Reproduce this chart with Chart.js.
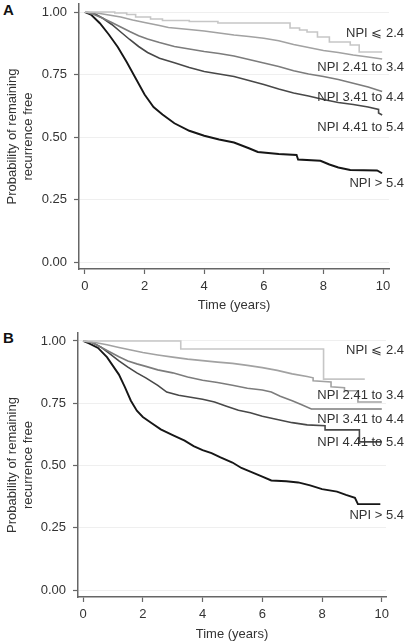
<!DOCTYPE html>
<html>
<head>
<meta charset="utf-8">
<script src="https://cdn.jsdelivr.net/npm/chart.js@4.4.0/dist/chart.umd.min.js"></script>
<style>
body{margin:0;width:406px;height:642px;overflow:hidden;background:#fff;position:relative;font-family:"Liberation Sans",Arial,sans-serif}
canvas{position:absolute;left:0}
.tag{position:absolute;left:3px;font-weight:bold;font-size:15px;line-height:16px;color:#111}
</style>
</head>
<body>
<div class="tag" style="top:2px">A</div>
<div class="tag" style="top:330px">B</div>
<canvas id="chartA" width="406" height="340" style="top:-16px"></canvas>
<canvas id="chartB" width="406" height="329" style="top:313px"></canvas>
<script>
const groups = ["NPI \u2A7D 2.4", "NPI 2.41 to 3.4", "NPI 3.41 to 4.4", "NPI 4.41 to 5.4", "NPI > 5.4"];
const xTicks = [0, 2, 4, 6, 8, 10];
const yTicks = [0, 0.25, 0.5, 0.75, 1];

// panel A, [time, probability]; repeated times are the visible drops
const aNpi1 = [[0,1],[1.0,0.996],[1.4,0.99],[1.7,0.98],[2.2,0.972],[2.6,0.966],[3.5,0.962],[4.46,0.956],[6.88,0.936],[7.2,0.928],[7.45,0.92],[7.8,0.9],[8.2,0.88],[8.9,0.868],[9.2,0.84],[9.97,0.84]];
const aNpi2 = [[0,1],[0.4,0.996],[0.8,0.988],[1.2,0.98],[1.6,0.968],[2.0,0.958],[2.5,0.946],[2.8,0.938],[3.5,0.93],[4.0,0.924],[4.5,0.916],[5.0,0.908],[5.5,0.902],[6.0,0.895],[6.5,0.885],[7.0,0.87],[7.5,0.858],[8.0,0.846],[8.5,0.838],[9.0,0.828],[9.5,0.82],[9.97,0.812]];
const aNpi3 = [[0,1],[0.3,0.99],[0.6,0.975],[0.9,0.958],[1.2,0.94],[1.5,0.922],[1.8,0.905],[2.1,0.892],[2.5,0.878],[3.0,0.862],[3.5,0.852],[4.0,0.842],[4.5,0.834],[5.0,0.824],[5.5,0.81],[6.0,0.796],[6.5,0.782],[7.0,0.765],[7.5,0.752],[8.0,0.742],[8.5,0.73],[9.0,0.715],[9.5,0.7],[9.97,0.682]];
const aNpi4 = [[0,1],[0.3,0.995],[0.6,0.975],[0.9,0.95],[1.2,0.92],[1.5,0.89],[1.8,0.862],[2.1,0.838],[2.5,0.815],[3.0,0.797],[3.5,0.778],[4.0,0.762],[4.5,0.752],[5.0,0.742],[5.5,0.726],[6.0,0.71],[6.5,0.692],[7.0,0.676],[7.5,0.664],[8.0,0.65],[8.5,0.638],[9.0,0.63],[9.5,0.62],[9.85,0.61],[9.85,0.596],[9.97,0.588]];
const aNpi5 = [[0,1],[0.2,0.99],[0.5,0.955],[0.8,0.91],[1.1,0.86],[1.4,0.8],[1.7,0.735],[2.0,0.67],[2.3,0.62],[2.6,0.59],[3.0,0.555],[3.5,0.525],[4.0,0.505],[4.5,0.49],[5.0,0.478],[5.5,0.455],[5.8,0.44],[6.5,0.432],[7.1,0.428],[7.15,0.41],[7.9,0.405],[8.2,0.39],[8.5,0.378],[8.9,0.368],[9.8,0.366],[9.97,0.355]];

// panel B
const bNpi1 = [[0,1],[3.27,0.968],[8.05,0.847],[9.43,0.847]];
const bNpi2 = [[0,1],[0.4,0.994],[0.8,0.985],[1.2,0.974],[1.6,0.964],[2.0,0.954],[2.5,0.944],[3.0,0.935],[3.5,0.927],[4.0,0.921],[4.5,0.915],[5.0,0.91],[5.5,0.902],[6.0,0.893],[6.5,0.882],[7.0,0.868],[7.5,0.857],[7.7,0.852],[7.7,0.84],[8.3,0.835],[8.3,0.816],[8.75,0.812],[8.75,0.8],[9.2,0.8],[9.2,0.755],[10,0.755]];
const bNpi3 = [[0,1],[0.3,0.993],[0.6,0.975],[0.9,0.956],[1.2,0.937],[1.5,0.92],[1.8,0.908],[2.1,0.898],[2.5,0.884],[3.0,0.872],[3.5,0.855],[4.0,0.842],[4.5,0.833],[5.0,0.822],[5.5,0.81],[6.0,0.803],[6.3,0.795],[6.6,0.778],[7.0,0.76],[7.3,0.745],[7.64,0.727],[10,0.727]];
const bNpi4 = [[0,1],[0.3,0.995],[0.6,0.975],[0.9,0.948],[1.2,0.92],[1.5,0.895],[1.8,0.872],[2.1,0.852],[2.5,0.822],[2.8,0.795],[3.2,0.782],[3.6,0.774],[4.0,0.766],[4.4,0.755],[4.8,0.738],[5.2,0.722],[5.6,0.712],[6.0,0.698],[6.5,0.685],[7.0,0.672],[7.5,0.663],[8.1,0.66],[8.1,0.643],[9.25,0.643],[9.25,0.595],[10,0.595]];
const bNpi5 = [[0,1],[0.2,0.99],[0.5,0.972],[0.8,0.935],[1.0,0.9],[1.2,0.865],[1.4,0.815],[1.6,0.76],[1.8,0.72],[2.0,0.695],[2.3,0.67],[2.6,0.645],[3.0,0.622],[3.4,0.6],[3.7,0.578],[4.0,0.562],[4.3,0.55],[4.6,0.533],[5.0,0.512],[5.3,0.49],[5.6,0.475],[6.0,0.455],[6.3,0.44],[6.8,0.437],[7.2,0.432],[7.6,0.42],[8.0,0.405],[8.5,0.395],[8.8,0.382],[9.1,0.37],[9.2,0.345],[9.95,0.345]];

// probability level where each curve label sits
const aLabelAt = [0.916, 0.78, 0.66, 0.54, 0.316];
const bLabelAt = [0.964, 0.783, 0.687, 0.594, 0.301];

const colors = ['#c6c6c6', '#a2a2a2', '#7c7c7c', '#484848', '#161616'];
const font = '"Liberation Sans", Arial, sans-serif';

const curveLabels = {
  id: 'curveLabels',
  afterDatasetsDraw(chart, args, opts) {
    const ctx = chart.ctx;
    const y = chart.scales.y;
    ctx.save();
    ctx.font = '13px ' + font;
    ctx.fillStyle = '#333';
    ctx.textAlign = 'right';
    ctx.textBaseline = 'middle';
    opts.at.forEach(function(v, i) {
      ctx.fillText(groups[i], 404, y.getPixelForValue(v));
    });
    ctx.restore();
  }
};

function makeChart(id, series, labelAt, s) {
  new Chart(document.getElementById(id), {
    type: 'line',
    data: {
      datasets: series.map(function(pts, i) {
        return {
          label: groups[i],
          data: pts.map(p => ({x: p[0], y: p[1]})),
          borderColor: colors[i],
          borderWidth: i == 4 ? 1.9 : 1.6,
          pointRadius: 0,
          // lowest-risk group has few events, so draw its steps
          stepped: i == 0,
          fill: false
        };
      })
    },
    options: {
      responsive: false,
      animation: false,
      layout: {padding: {left: 0, right: s.padRight, top: 20, bottom: 0}},
      plugins: {
        legend: {display: false},
        tooltip: {enabled: false},
        curveLabels: {at: labelAt}
      },
      scales: {
        x: {
          type: 'linear',
          min: s.xmin,
          max: s.xmax,
          afterBuildTicks: sc => { sc.ticks = xTicks.map(v => ({value: v})); },
          afterFit: sc => { sc.height = s.xHeight; },
          grid: {drawOnChartArea: false, tickLength: 5, tickColor: '#666', tickWidth: 1.2},
          border: {color: '#666', width: 1.5},
          ticks: {color: '#333', padding: 5, font: {size: 13, family: font}, callback: v => String(v)},
          title: {display: true, text: 'Time (years)', color: '#333', font: {size: 13, family: font}, padding: {top: 0, bottom: s.titlePad}}
        },
        y: {
          min: -0.028,
          max: 1.032,
          afterBuildTicks: sc => { sc.ticks = yTicks.map(v => ({value: v})); },
          afterFit: sc => { sc.width = s.yWidth; },
          grid: {color: '#efefef', lineWidth: 1, tickLength: 5, tickColor: '#666', tickWidth: 1.2},
          border: {color: '#666', width: 1.5},
          ticks: {color: '#333', padding: 7, font: {size: 13, family: font}, callback: v => v.toFixed(2)},
          title: {display: true, text: ['Probability of remaining', 'recurrence free'], color: '#333', font: {size: 13, family: font}, padding: {top: 5, bottom: 0}}
        }
      }
    },
    plugins: [curveLabels]
  });
}

makeChart('chartA', [aNpi1, aNpi2, aNpi3, aNpi4, aNpi5], aLabelAt,
  {xmin: -0.2, xmax: 10.2, yWidth: 79, padRight: 17, xHeight: 55, titlePad: 11});
makeChart('chartB', [bNpi1, bNpi2, bNpi3, bNpi4, bNpi5], bLabelAt,
  {xmin: -0.17, xmax: 10.14, yWidth: 78, padRight: 20, xHeight: 45, titlePad: 0});
</script>
</body>
</html>
